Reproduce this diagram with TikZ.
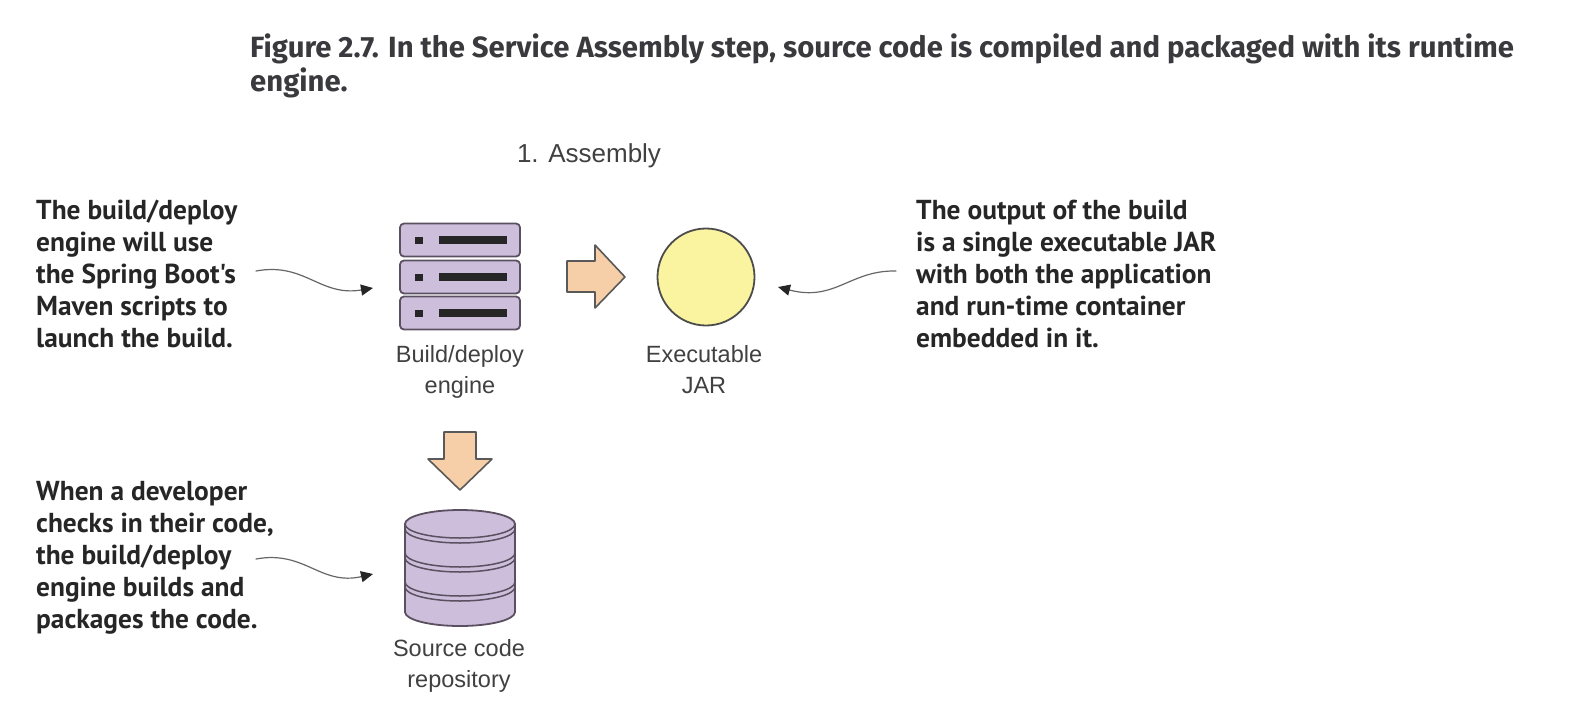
\documentclass[tikz,border=0pt]{standalone}
\usepackage{fontspec}
\setmainfont{Liberation Sans}
\newfontfamily\titlefont{Fira Sans}
\newfontfamily\notefont{PT Sans}
\usetikzlibrary{calc,arrows.meta}
\definecolor{ink}{HTML}{3A3A3E}
\definecolor{pur}{HTML}{CDBEDC}
\definecolor{purd}{HTML}{5A5060}
\definecolor{peach}{HTML}{F6CFA8}
\definecolor{yel}{HTML}{FAF3A0}
\tikzset{
	note/.style={inner sep=0pt,align=left,anchor=north west,text=black!85,font=\notefont\fontsize{27.4}{32}\selectfont\bfseries},
	lbl/.style={inner sep=0pt,align=center,anchor=north,text=black!75,font=\fontsize{23.5}{31}\selectfont},
	curl/.style={line width=1.2pt,draw=black!60,-{Stealth[length=12pt,width=11pt,inset=0pt,black!85]}},
	bigarrow/.style={draw=black!65,line width=1.6pt,fill=peach,line join=round},
	srv/.style={draw=purd,line width=1.8pt,fill=pur,rounded corners=4pt},
}
\begin{document}
\begin{tikzpicture}[x=1pt,y=-1pt,line cap=round]
		\useasboundingbox (0,0) rectangle (1570,720);
		\node[inner sep=0pt,anchor=north west,align=left,text=ink,font=\titlefont\fontsize{29.3}{34}\selectfont\bfseries] (title) at (250,34) {Figure 2.7. In the Service Assembly step, source code is compiled and packaged with its runtime\\engine.};
		\node[lbl,font=\fontsize{26}{31}\selectfont] (assembly) at (589,143) {1. Assembly};
		
		\foreach \y/\nm in {240/srva,277/srvb,313/srvc}{
			\node[srv,minimum width=120pt,minimum height=33pt,inner sep=0pt] (\nm) at (460,\y) {};
			\fill[black!85] (415,\y-3) rectangle (423,\y+4);
			\fill[black!85] (439,\y-4) rectangle (507,\y+4);
		}
		\node[lbl] (engine) at (460,345) {Build/deploy\\engine};
		
		\draw[bigarrow] (567,261) -- (595,261) -- (595,245) -- (625,277) -- (595,308) -- (595,292) -- (567,292) -- cycle;
		\node[circle,draw=black!70,line width=1.8pt,fill=yel,minimum size=97pt,inner sep=0pt] (jar) at (706,277) {};
		\node[lbl] (jarlabel) at (704,345) {Executable\\JAR};
		
		\draw[bigarrow] (444,432) -- (476,432) -- (476,459) -- (492,459) -- (460,490) -- (428,459) -- (444,459) -- cycle;
		\draw[draw=purd,line width=1.8pt,fill=pur] (405,524) -- (405,612) arc[start angle=180,end angle=0,x radius=55,y radius=14] -- (515,524) arc[start angle=0,end angle=-180,x radius=55,y radius=14] -- cycle;
		\foreach \y in {524,553,582}{
			\draw[draw=purd,line width=1.5pt] (405,\y) arc[start angle=180,end angle=0,x radius=55,y radius=14];
			\draw[draw=purd,line width=1.5pt] (405,\y+5) arc[start angle=180,end angle=0,x radius=55,y radius=14];
		}
		\node[lbl] (repo) at (459,639) {Source code\\repository};
		
		\node[note] (n1) at (36,200) {The build/deploy\\engine will use\\the Spring Boot's\\Maven scripts to\\launch the build.};
		\node[note] (n2) at (916,200) {The output of the build\\is a single executable JAR\\with both the application\\and run-time container\\embedded in it.};
		\node[note] (n3) at (36,481) {When a developer\\checks in their code,\\the build/deploy\\engine builds and\\packages the code.};
		
		\coordinate (c1a) at (256,271);
		\coordinate (c1b) at (373,288);
		\coordinate (c2a) at (896,271);
		\coordinate (c2b) at (778,287);
		\coordinate (c3a) at (256,559);
		\coordinate (c3b) at (373,574);
		\draw[curl] (c1a) .. controls (305,262) and (320,297) .. (c1b);
		\draw[curl] (c2a) .. controls (850,270) and (835,302) .. (c2b);
		\draw[curl] (c3a) .. controls (305,550) and (320,586) .. (c3b);
	\end{tikzpicture}
\end{document}
